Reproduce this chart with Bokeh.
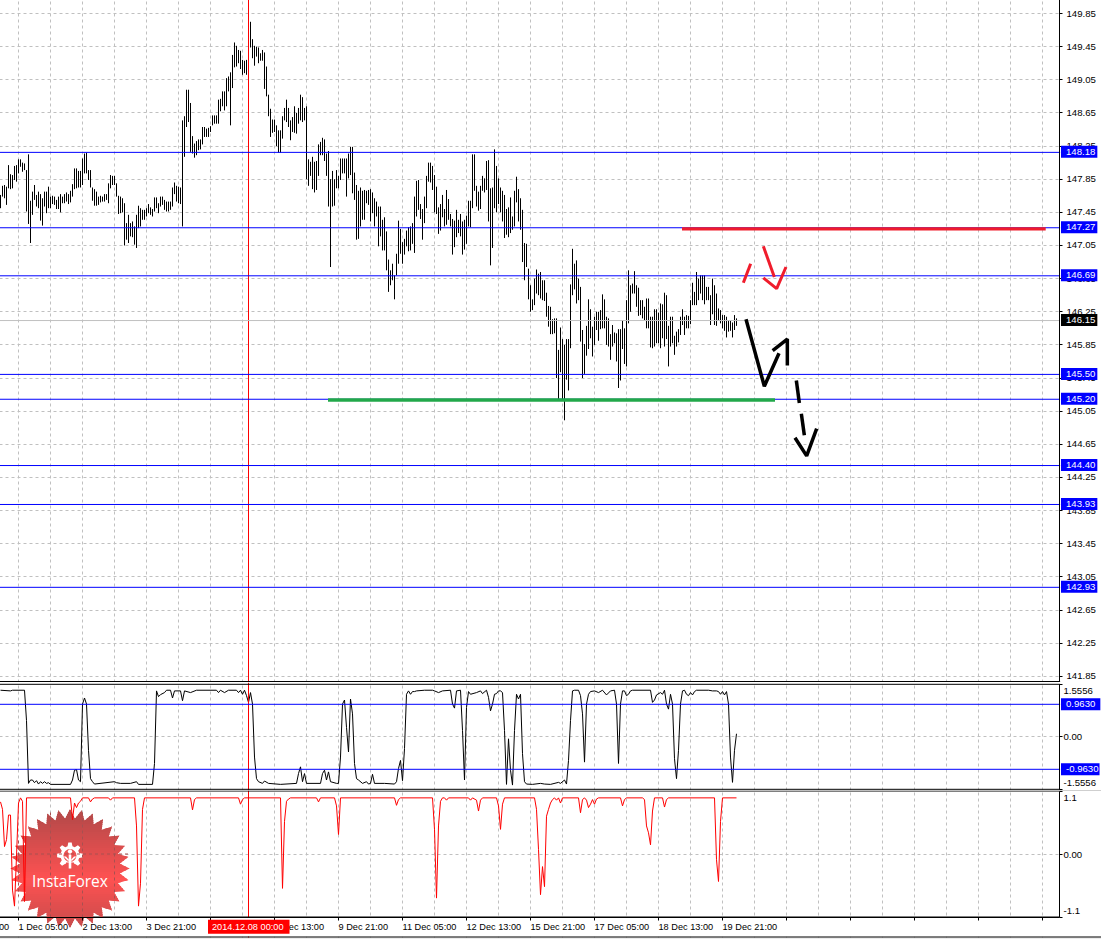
import math
from bokeh.embed import file_html
from bokeh.resources import INLINE
from bokeh.plotting import figure
from bokeh.layouts import column
from bokeh.models import Range1d, FixedTicker, PrintfTickFormatter, Span, Label, PolyAnnotation, LinearAxis

bar_high = [
147.66,147.77,147.78,147.76,148.02,147.91,147.90,148.01,148.02,148.09,
148.09,148.05,148.04,147.96,148.15,147.59,147.70,147.78,147.66,147.70,
147.67,147.62,147.70,147.70,147.76,147.64,147.65,147.64,147.60,147.64,
147.67,147.64,147.67,147.69,147.67,147.71,147.79,147.98,147.98,147.95,
147.95,148.10,148.16,148.17,147.96,147.96,147.75,147.73,147.70,147.64,
147.65,147.64,147.67,147.67,147.80,147.90,147.89,147.89,147.80,147.65,
147.64,147.62,147.56,147.32,147.42,147.32,147.34,147.28,147.42,147.53,
147.50,147.48,147.48,147.50,147.55,147.51,147.49,147.63,147.63,147.56,
147.64,147.64,147.60,147.58,147.58,147.58,147.75,147.81,147.77,147.76,
147.75,148.56,148.61,148.93,148.93,148.77,148.37,148.28,148.31,148.33,
148.33,148.48,148.48,148.46,148.47,148.49,148.62,148.62,148.62,148.81,
148.82,148.91,148.91,149.07,149.09,149.14,149.35,149.50,149.46,149.41,
149.40,149.29,149.28,149.29,149.45,149.75,149.54,149.46,149.45,149.44,
149.37,149.41,149.38,149.21,148.87,148.70,148.57,148.57,148.50,148.44,
148.44,148.61,148.71,148.81,148.71,148.56,148.60,148.73,148.65,148.71,
148.87,148.84,148.71,148.73,148.09,148.06,148.12,148.06,148.07,148.27,
148.30,148.35,148.33,148.16,148.19,147.85,147.95,147.85,147.96,147.89,
148.10,148.10,148.10,148.10,148.16,148.24,148.24,147.93,147.78,147.71,
147.75,147.71,147.72,147.71,147.72,147.73,147.69,147.62,147.58,147.52,
147.52,147.36,147.39,147.22,146.88,146.75,146.83,146.69,146.95,147.35,
147.25,147.09,147.13,147.23,147.27,147.28,147.32,147.64,147.83,147.84,
147.55,147.49,147.64,147.89,148.05,148.05,148.01,147.90,147.76,147.51,
147.55,147.66,147.49,147.72,147.61,147.43,147.37,147.35,147.48,147.36,
147.43,147.34,147.36,147.41,147.59,147.59,148.15,148.15,147.77,147.70,
147.77,147.89,147.86,148.07,148.08,147.74,147.75,148.21,148.01,147.86,
147.75,147.71,147.66,147.49,147.51,147.63,147.40,147.71,147.88,147.73,
147.62,147.48,147.08,147.07,146.77,146.57,146.40,146.65,146.76,146.71,
146.73,146.63,146.63,146.48,146.32,146.31,146.16,146.17,146.17,145.79,
146.06,145.92,145.85,145.92,145.92,146.58,147.01,146.83,146.87,146.65,
146.55,146.03,145.86,146.08,146.40,146.28,146.07,146.19,146.25,146.25,
146.27,146.46,146.40,146.19,146.17,145.98,146.09,146.00,145.99,146.04,
146.04,146.15,146.05,146.39,146.75,146.57,146.59,146.74,146.57,146.54,
146.39,146.39,146.31,146.41,146.41,146.19,146.19,146.28,146.28,146.24,
146.35,146.34,146.48,146.45,146.08,146.19,146.19,145.96,146.01,146.04,
146.19,146.28,146.19,146.21,146.20,146.39,146.60,146.49,146.73,146.65,
146.69,146.69,146.69,146.55,146.55,146.45,146.65,146.57,146.47,146.29,
146.27,146.21,146.21,146.19,146.15,146.14,146.12,146.21,146.17]

bar_low = [
147.50,147.64,147.62,147.54,147.74,147.73,147.74,147.84,147.82,147.92,
148.00,147.94,147.96,147.46,147.31,147.08,147.42,147.60,147.52,147.50,
147.35,147.29,147.52,147.44,147.50,147.50,147.55,147.54,147.49,147.49,
147.45,147.56,147.56,147.58,147.55,147.57,147.64,147.73,147.74,147.75,
147.75,147.78,147.92,147.92,147.84,147.75,147.59,147.53,147.53,147.54,
147.57,147.58,147.58,147.60,147.56,147.74,147.78,147.78,147.64,147.43,
147.44,147.45,147.05,147.12,147.08,147.16,147.15,147.06,147.02,147.26,
147.28,147.36,147.36,147.40,147.44,147.42,147.40,147.46,147.50,147.44,
147.52,147.54,147.48,147.46,147.46,147.48,147.52,147.67,147.58,147.56,
147.55,147.28,148.12,148.48,148.54,148.18,148.16,148.11,148.14,148.20,
148.21,148.27,148.36,148.36,148.36,148.42,148.50,148.52,148.52,148.52,
148.67,148.73,148.68,148.73,148.91,148.50,148.95,149.20,149.21,149.25,
149.18,149.11,149.13,149.11,149.21,149.44,149.31,149.22,149.33,149.25,
149.28,149.28,148.94,148.85,148.61,148.36,148.41,148.42,148.25,148.17,
148.17,148.34,148.56,148.54,148.48,148.32,148.42,148.41,148.40,148.52,
148.56,148.54,148.56,147.85,147.77,147.89,147.73,147.69,147.72,147.89,
148.14,148.14,148.07,147.89,147.52,146.79,147.52,147.53,147.74,147.74,
147.84,147.92,147.92,147.64,147.86,147.90,147.68,147.60,147.12,147.13,
147.28,147.36,147.36,147.56,147.54,147.34,147.44,147.28,147.40,147.04,
147.16,146.99,146.99,146.75,146.49,146.57,146.63,146.40,146.69,146.83,
146.95,146.83,146.94,147.04,146.98,146.99,147.07,146.96,147.40,147.48,
147.37,147.12,147.32,147.50,147.82,147.81,147.72,147.45,147.43,147.19,
147.23,147.39,147.28,147.30,147.36,147.28,146.94,147.03,147.15,147.20,
147.16,146.94,147.00,147.07,147.28,147.27,147.50,147.71,147.52,147.47,
147.49,147.71,147.69,147.72,147.34,146.81,147.02,147.50,147.45,147.55,
147.45,147.34,147.14,147.18,147.15,147.20,147.24,147.28,147.57,147.34,
147.24,146.85,146.63,146.79,146.40,146.25,146.27,146.33,146.47,146.45,
146.41,146.39,146.38,146.19,146.07,145.98,145.98,145.99,145.45,145.19,
145.52,145.19,144.94,145.43,145.30,145.81,146.45,146.52,146.35,146.39,
145.89,145.45,145.50,145.72,145.80,145.93,145.71,145.85,146.03,145.90,
146.04,146.05,146.05,145.85,145.83,145.67,145.83,145.87,145.65,145.33,
145.42,145.80,145.62,145.59,146.11,146.25,146.47,146.47,146.31,146.20,
146.21,146.17,146.15,146.05,146.05,145.82,145.81,145.83,145.87,145.87,
145.81,145.93,145.83,145.92,145.59,145.83,145.87,145.73,145.83,145.88,
145.97,146.09,145.97,146.05,146.05,146.10,146.33,146.33,146.33,146.39,
146.47,146.39,146.34,146.39,146.39,146.09,146.22,146.09,146.08,146.15,
146.11,146.05,146.02,145.94,146.01,146.02,145.94,146.03,146.08]

osc_points = [
(0,1.38),(5,1.36),(6,1.38),(12,1.38),(13,.48),(14,-1.38),(15,-1.28),(16,-1.28),(17,-1.36),(18,-1.30),
(19,-1.40),(20,-1.33),(21,-1.38),(22,-1.33),(23,-1.38),(24,-1.36),(25,-1.41),(35,-1.41),(36,-1.28),(37,-.99),
(38,-.97),(39,-1.28),(40,-1.33),(41,.97),(42,1.15),(43,.97),(44,-.40),(45,-1.24),(46,-1.33),(47,-1.40),
(57,-1.33),(58,-1.36),(60,-1.38),(65,-1.38),(68,-1.33),(69,-1.41),(76,-1.41),(77,-.79),(78,1.36),(79,1.19),
(80,1.25),(82,1.31),(83,1.38),(85,1.38),(86,1.15),(87,1.36),(90,1.36),(91,1.07),(92,1.36),(95,1.31),
(98,1.38),(108,1.38),(109,1.31),(110,1.38),(112,1.31),(114,1.38),(118,1.38),(119,1.31),(120,1.38),(121,1.26),
(122,1.38),(123,1.22),(124,1.02),(125,1.31),(126,.97),(127,-.60),(128,-1.24),(129,-1.33),(131,-1.38),(132,-1.31),
(134,-1.38),(140,-1.41),(148,-1.38),(149,-1.09),(150,-.89),(151,-1.33),(152,-1.09),(153,-1.38),(160,-1.38),(161,-1.09),
(162,-.99),(163,-1.28),(164,-1.04),(165,-1.33),(168,-1.38),(169,-1.38),(170,-.60),(171,.97),(172,1.09),(173,.28),
(174,-.45),(175,1.12),(176,.68),(177,-.79),(178,-1.24),(179,-1.28),(181,-1.38),(183,-1.33),(184,-1.40),(185,-1.38),
(186,-1.11),(187,-1.38),(192,-1.38),(197,-1.40),(198,-1.33),(199,-.94),
(200,-.70),(201,-1.30),(202,-.35),(203,1.26),(204,1.36),(205,1.26),(206,1.34),(207,1.34),(208,1.36),(212,1.38),
(216,1.38),(217,1.36),(219,1.31),(221,1.36),(225,1.38),(226,.97),(227,.85),(228,1.36),(230,1.38),(231,.19),
(232,-1.28),(233,.87),(234,1.34),(235,1.26),(238,1.31),(240,1.36),(241,1.28),(243,1.38),(244,1.17),(245,.77),
(246,.97),(247,1.26),(248,1.28),(249,1.36),(250,1.36),(251,1.31),(252,.19),(253,-1.41),(254,-.06),(255,-.99),
(256,-1.43),(257,.19),(258,1.26),(259,1.12),(260,1.26),(261,-.50),(262,-1.33),(263,-1.40),(266,-1.41),(270,-1.38),
(272,-1.40),(275,-1.41),(279,-1.35),(280,-1.38),(282,-1.28),(283,-1.40),(284,-.70),(285,.48),(286,1.36),(287,1.38),
(289,1.38),(290,1.22),(291,.68),(292,-.75),(293,.97),(294,1.26),(295,1.34),(297,1.36),(299,1.31),(301,1.38),
(303,1.24),(305,1.36),(307,1.38),(308,.97),(309,-.79),(310,.97),(311,1.36),(312,1.36),(313,1.22),(314,1.26),
(315,1.36),(316,1.38),(325,1.38),(326,1.02),(327,1.09),(328,1.24),(330,1.31),(331,1.26),(332,1.38),(333,.97),
(334,.82),(335,1.26),(336,.97),(337,-.65),(338,-1.24),(339,-.40),(340,.97),(341,1.36),(342,1.38),(343,1.26),
(344,1.22),(345,1.31),(346,1.24),(347,1.34),(348,1.38),(354,1.38),(356,1.36),(358,1.36),(359,1.34),(360,1.26),
(361,1.34),(362,1.24),(363,1.34),(364,.97),(365,-.60),(366,-1.35),(367,-.40),(368,.09)]

atr_points = [
(0,.91),(1,.78),(2,.13),(3,.25),(4,.68),(5,.68),(6,-.63),(7,-.91),(8,-.04),(9,.89),
(10,.98),(11,.92),(12,-.83),(13,.98),(35,.98),(36,.60),(37,.89),(38,.81),(39,.89),(40,.92),
(41,.98),(44,.98),(45,.91),(46,.96),(47,.98),(54,.98),(55,.94),(56,.98),(67,.98),(68,.49),
(69,-.91),(70,-.51),(71,.78),(72,.98),(95,.98),(96,.77),(97,.95),(98,.98),(119,.98),(120,.87),
(121,.95),(122,.98),(140,.98),(141,-.60),(142,.57),(143,.92),(144,.96),(145,.98),(158,.98),(159,.91),
(160,.98),(167,.98),(168,.84),(169,.34),(170,.98),(197,.98),(198,.85),(199,.95),(200,.98),(216,.98),
(217,.43),(218,-.77),(219,.49),(220,.92),(221,.98),(222,.98),(223,.94),(224,.98),(234,.98),(235,.94),
(236,.98),(238,.94),(239,.75),(240,.94),(241,.98),(248,.98),(249,.84),(250,.43),(251,.87),(252,.98),
(267,.98),(268,.78),(269,.08),(270,-.71),(271,-.22),(272,-.57),(273,.66),(274,.78),(275,.89),(276,.95),
(277,.98),(278,.94),(279,.98),(280,.89),(281,.98),(289,.98),(290,.72),(291,.95),(292,.98),(293,.94),
(294,.81),(295,.87),(296,.95),(297,.87),(298,.96),(299,.98),(310,.98),(311,.84),(312,.95),(313,.98),
(321,.98),(322,.95),(323,.49),(324,.37),(325,.16),(326,.75),(327,.98),(331,.98),(332,.82),(333,.95),
(334,.98),(357,.98),(358,-.10),(359,-.48),(360,.57),(361,.98),(368,.98)]

level_prices = [148.18, 147.27, 146.69, 145.50, 145.20, 144.40, 143.93, 142.93]
level_texts = ["148.18", "147.27", "146.69", "145.50", "145.20", "144.40", "143.93", "142.93"]
current_price = 146.15
price_ticks = [149.85,149.45,149.05,148.65,148.25,147.85,147.45,147.05,146.65,146.25,145.85,
               145.45,145.05,144.65,144.25,143.85,143.45,143.05,142.65,142.25,141.85]
osc_levels = [0.9630, -0.9630]
osc_level_texts = ["0.9630", "-0.9630"]
osc_limit = 1.5556
atr_limit = 1.1
cursor_bar = 124
cursor_text = "2014.12.08 00:00"
date_bars = [-23, 9, 41, 73, 105, 137, 169, 201, 233, 265, 297, 329, 361]
date_texts = ["27 Nov 21:00", "1 Dec 05:00", "2 Dec 13:00", "3 Dec 21:00", "5 Dec 05:00", "8 Dec 13:00",
              "9 Dec 21:00", "11 Dec 05:00", "12 Dec 13:00", "15 Dec 21:00", "17 Dec 05:00",
              "18 Dec 13:00", "19 Dec 21:00"]

red_level = ([340.75, 522.6], [147.25, 147.25])
green_level = ([163.75, 387.25], [145.185, 145.185])
red_strokes = [
    ([375.08, 371.42], [146.83, 146.60]),
    ([381.42, 386.92], [147.04, 146.67]),
    ([381.42, 388.08, 392.75], [146.66, 146.53, 146.79]),
]
black_strokes = [
    ([372.75, 381.92, 389.25], [146.16, 145.35, 145.75]),
    ([386.08, 393.42, 393.42], [145.78, 145.92, 145.60]),
    ([397.92, 399.42], [145.42, 145.15]),
    ([400.42, 401.92], [145.02, 144.76]),
    ([397.25, 403.08, 408.08], [144.73, 144.51, 144.84]),
]

FONT = "Liberation Sans"
FS = "9.6px"
DATE_FS = "9.2px"
GRID = "#c0c0c0"
BLUE = "#0000ff"
X0, X1 = -0.5, 550.5
AXIS_X = 529.5
vticks = [9 + 16 * k for k in range(33)]
tick32 = [9 + 32 * k for k in range(17)]
bars_x = list(range(len(bar_high)))


def bx(px):
    return (px - 0.5) / 2


def pane(h, ylo, yhi, axis_ticks, lo, hi, standoff):
    p = figure(width=1102, height=h, frame_width=1102, frame_height=h, output_backend="svg",
               toolbar_location=None, x_range=Range1d(X0, X1), y_range=Range1d(ylo, yhi),
               min_border_left=0, min_border_right=0, min_border_top=0, min_border_bottom=0,
               x_axis_location=None, y_axis_location=None, outline_line_color=None,
               background_fill_color="white", border_fill_color="white")
    p.xgrid.ticker = FixedTicker(ticks=vticks)
    p.xgrid.grid_line_color = GRID
    p.xgrid.grid_line_dash = "3 3"
    p.ygrid.grid_line_color = GRID
    p.ygrid.grid_line_dash = "3 3"
    p.ygrid.ticker = FixedTicker(ticks=axis_ticks)
    ax = LinearAxis(fixed_location=AXIS_X, ticker=FixedTicker(ticks=axis_ticks), bounds=(lo, hi),
                    axis_line_color="black", major_tick_line_color="black", major_tick_out=3,
                    major_tick_in=0, minor_tick_line_color=None, major_label_text_font=FONT,
                    major_label_text_font_size=FS, major_label_text_color="black",
                    major_label_standoff=standoff, level="overlay")
    p.add_layout(ax, "right")
    p.add_layout(Span(location=cursor_bar, dimension="height", line_color="#ff0000", line_width=1))
    return p, ax


def mask(p, ymin, ymax):
    p.add_layout(PolyAnnotation(xs=[AXIS_X + 0.3, X1 + 1, X1 + 1, AXIS_X + 0.3], ys=[ymax, ymax, ymin, ymin],
                                fill_color="white", fill_alpha=1, line_color=None, level="annotation"))


def flag(p, px, y, text, bg="#0000ff", right=2):
    p.add_layout(Label(x=bx(px), y=y, text=text, text_font=FONT, text_font_size=FS, text_color="white",
                       text_align="left", text_baseline="middle", background_fill_color=bg,
                       padding=dict(left=5, right=right, top=3, bottom=3), level="overlay"))


def plain(p, px, y, text):
    p.add_layout(Label(x=bx(px), y=y, text=text, text_font=FONT, text_font_size=FS, text_color="black",
                       text_align="left", text_baseline="middle", level="overlay"))


# ---- main price pane (canvas rows -1 .. 682)
PPX = 82.85
LINE_NUDGE = 0.5 / PPX
ptop = 149.85 + 14.0 / PPX
pbot = 149.85 - (682 - 13.0) / PPX
p1, ax1 = pane(683, pbot, ptop, price_ticks, pbot + 1.0 / PPX, ptop, 4)
ax1.formatter = PrintfTickFormatter(format="%.2f")
p1.add_layout(Span(location=current_price - LINE_NUDGE, dimension="width", line_color=GRID, line_width=1))
for lv in level_prices:
    p1.add_layout(Span(location=lv - LINE_NUDGE, dimension="width", line_color=BLUE, line_width=1))
p1.add_layout(Span(location=pbot + 1.0 / PPX, dimension="width", line_color="black", line_width=1))
mask(p1, pbot, ptop)
p1.segment(bars_x, bar_high, bars_x, bar_low, line_color="black", line_width=1)
p1.line(red_level[0], red_level[1], line_color="#f01c2c", line_width=3.4, level="overlay")
p1.line(green_level[0], green_level[1], line_color="#22a84a", line_width=3.4, level="overlay")
for xs, ys in red_strokes:
    p1.line(xs, ys, line_color="#f01c2c", line_width=3, level="overlay")
for xs, ys in black_strokes:
    p1.line(xs, ys, line_color="black", line_width=3.5, level="overlay")
for lv, tx in zip(level_prices, level_texts):
    flag(p1, 1061, lv, tx)
flag(p1, 1061, current_price, f"{current_price:.2f}", bg="#000000")

# ---- oscillator pane (canvas rows 682 .. 790)
OPX = 33.75
OC = 736.3
p2, ax2 = pane(108, (OC - 790) / OPX, (OC - 682) / OPX, [osc_limit, 0.0, -osc_limit], -osc_limit, osc_limit, 1)
ax2.major_label_overrides = {osc_limit: " ", 0.0: "0.00", -osc_limit: " "}
p2.ygrid.ticker = FixedTicker(ticks=[0.0])
for lv in osc_levels:
    p2.add_layout(Span(location=lv, dimension="width", line_color=BLUE, line_width=1))
for lv in (osc_limit, -osc_limit):
    p2.add_layout(Span(location=lv, dimension="width", line_color="black", line_width=1))
mask(p2, -2, 2)
oi, ov = zip(*osc_points)
p2.line(list(oi), list(ov), line_color="black", line_width=1)
plain(p2, 1063.5, osc_limit - 6.5 / OPX, f"{osc_limit:.4f}")
plain(p2, 1063.5, -osc_limit + 6 / OPX, f"{-osc_limit:.4f}")
flag(p2, 1061, osc_levels[0], osc_level_texts[0], right=5)
flag(p2, 1061, osc_levels[1], osc_level_texts[1], right=1)

# ---- bottom pane (canvas rows 790 .. 939)
APX = 126 / (2 * atr_limit)


def ay(py):
    return (853.5 - py) / APX


p3, ax3 = pane(149, ay(939), ay(790), [atr_limit, 0.0, -atr_limit], -atr_limit, atr_limit, 1)
ax3.major_label_overrides = {atr_limit: " ", 0.0: "0.00", -atr_limit: " "}
p3.ygrid.ticker = FixedTicker(ticks=[0.0])
for lv in (atr_limit, -atr_limit):
    p3.add_layout(Span(location=lv, dimension="width", line_color="black", line_width=1))
mask(p3, ay(939), ay(790))


def poly(points, color):
    p3.add_layout(PolyAnnotation(xs=[bx(a) for a, _ in points], ys=[ay(b) for _, b in points],
                                 fill_color=color, fill_alpha=1, line_color=None, level="annotation"))


poly([(0, 917.1), (1101, 917.1), (1101, 936), (0, 936)], "#ffffff")
poly([(0, 937), (1102, 937), (1102, 940), (0, 940)], "#ececec")
poly([(0, 936), (1102, 936), (1102, 937), (0, 937)], "#000000")
xax = LinearAxis(fixed_location=-atr_limit, ticker=FixedTicker(ticks=tick32), bounds=(X0, AXIS_X),
                 major_label_text_color=None, major_tick_out=3, major_tick_in=0, minor_tick_line_color=None,
                 axis_line_color="black", major_tick_line_color="black", level="overlay")
p3.add_layout(xax, "below")


def clip(pts, ymin, ymax):
    def cut(src, y, keep_above):
        out = []
        for a, b in zip(src, src[1:] + src[:1]):
            ina = a[1] >= y if keep_above else a[1] <= y
            inb = b[1] >= y if keep_above else b[1] <= y
            if ina:
                out.append(a)
            if ina != inb:
                t = (y - a[1]) / (b[1] - a[1])
                out.append((a[0] + t * (b[0] - a[0]), y))
        return out
    r = cut(pts, ymin, True)
    return cut(r, ymax, False) if r else r


# logo: vertical gradient star built from stacked strips
CX, CY = 70.0, 868.0
star = []
for k in range(64):
    rad = 59.5 if k % 2 == 0 else 50.0
    ang = math.pi * k / 32 - math.pi / 2
    star.append((CX + rad * math.cos(ang), CY + rad * math.sin(ang)))

y = 806
while y < 930:
    strip = clip(star, y - 0.4, y + 2.4)
    if len(strip) > 2:
        t = min(abs(y - 878) / 62.0, 1.0)
        c = (int(255 - 70 * t), int(82 - 8 * t), int(82 - 8 * t))
        poly(strip, "#%02x%02x%02x" % c)
    y += 2

gear = []
for k in range(16):
    for da, rad in ((-0.13, 13.0 if k % 2 == 0 else 9.5), (0.13, 13.0 if k % 2 == 0 else 9.5)):
        ang = math.pi * k / 8 + da - math.pi / 2
        gear.append((70 + rad * math.cos(ang), 855 + rad * math.sin(ang)))
poly(gear, "#ffffff")
poly([(70 + 6.5 * math.cos(a / 8 * math.pi), 855 + 6.5 * math.sin(a / 8 * math.pi)) for a in range(16)], "#ee5252")
poly([(66, 862), (74, 862), (75, 869), (65, 869)], "#ee5252")
poly([(70 + 2.2 * math.cos(a / 4 * math.pi), 851 + 2.2 * math.sin(a / 4 * math.pi)) for a in range(8)], "#ffffff")
poly([(68.7, 854), (71.3, 854), (71.3, 868), (68.7, 868)], "#ffffff")
poly([(63.5, 856), (66, 856), (68.7, 859), (68.7, 861)], "#ffffff")
poly([(76.5, 856), (74, 856), (71.3, 859), (71.3, 861)], "#ffffff")

# grid lines seen through the logo
LOGO = "#a85050"
p3.segment([9, 25, 41, 57], [ay(840), ay(812), ay(812), ay(835)], [9, 25, 41, 57], [ay(896), ay(917), ay(917), ay(900)],
           line_color=LOGO, line_dash="3 3", level="overlay")
p3.segment([bx(11)], [0.0], [bx(129)], [0.0], line_color=LOGO, line_dash="3 3", level="overlay")

ai, av = zip(*atr_points)
p3.line(list(ai), list(av), line_color="#ff0000", line_width=1, level="overlay")
p3.add_layout(Label(x=bx(70), y=ay(880.5), text="InstaForex", text_font="Open Sans", text_font_size="15.5px",
                    text_color="white", text_align="center", text_baseline="middle", level="overlay"))
plain(p3, 1063.5, atr_limit - 7 / APX, f"{atr_limit:.1f}")
plain(p3, 1063.5, -atr_limit + 6.5 / APX, f"{-atr_limit:.1f}")
for b, tx in zip(date_bars, date_texts):
    p3.add_layout(Label(x=b, y=ay(926), text=tx, text_font=FONT, text_font_size=DATE_FS, text_color="black",
                        text_align="left", text_baseline="middle", level="overlay"))
p3.add_layout(Label(x=bx(208), y=ay(926.3), text=cursor_text, text_font=FONT, text_font_size=DATE_FS,
                    text_color="white", text_align="left", text_baseline="middle",
                    background_fill_color="#ff0000", padding=dict(left=4, right=6, top=2, bottom=2), level="overlay"))

page = column(p1, p2, p3, spacing=0, margin=(-1, 0, 0, -1))
open("out.html", "w").write(file_html(page, INLINE))
